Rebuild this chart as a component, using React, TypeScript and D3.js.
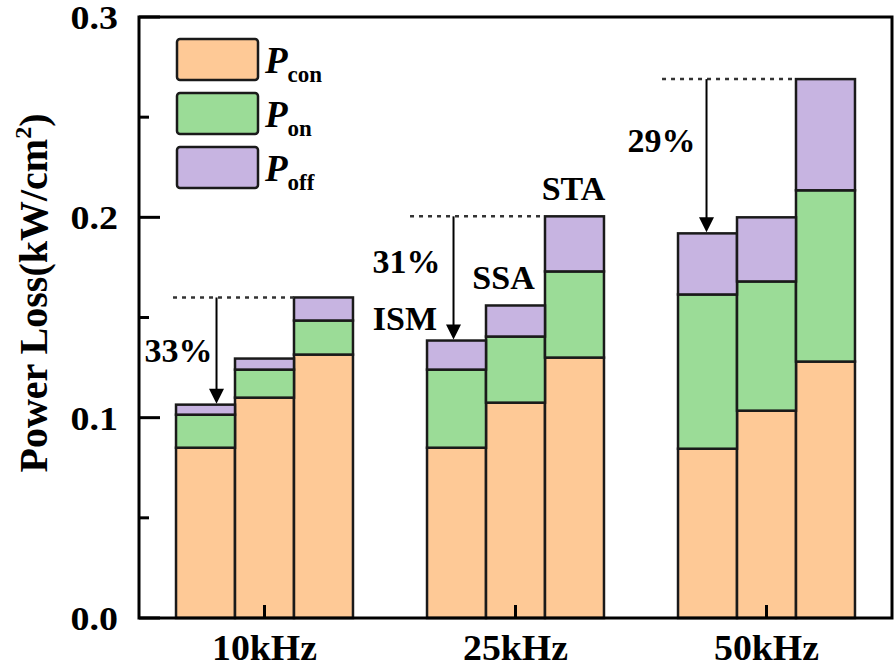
import React from "react";
import * as d3 from "d3";

const categories = ["10kHz", "25kHz", "50kHz"];
const methods = ["ISM", "SSA", "STA"];
// per category: [ISM, SSA, STA]
const pCon = [
  [0.085, 0.11, 0.1315],
  [0.085, 0.1075, 0.13],
  [0.0845, 0.1035, 0.128],
];
const pOn = [
  [0.0165, 0.014, 0.017],
  [0.039, 0.033, 0.043],
  [0.077, 0.0645, 0.0855],
];
const pOff = [
  [0.005, 0.0055, 0.0115],
  [0.0145, 0.0155, 0.0275],
  [0.0305, 0.032, 0.0555],
];
const reductions = ["33%", "31%", "29%"];
const reductionLabelY = [0.1278, 0.1722, 0.2327];
const yTicks = [0, 0.1, 0.2, 0.3];
const yMinorTicks = [0.05, 0.15, 0.25];
const seriesKeys = ["con", "on", "off"];
const seriesSubs = ["con", "on", "off"];
const colors = ["#FEC996", "#9BDC97", "#C7B4E1"];

const W = 896;
const H = 668;
const M = { left: 139, right: 892, top: 17, bottom: 618 };
const FONT = "'Liberation Serif', 'Times New Roman', serif";
const STROKE = "#1a1a1a";

export default function App() {
  const x0 = d3
    .scaleBand<string>()
    .domain(categories)
    .range([M.left, M.right])
    .paddingInner(0.295)
    .paddingOuter(0.1475);
  const x1 = d3
    .scaleBand<string>()
    .domain(methods)
    .range([0, x0.bandwidth()])
    .padding(0);
  const y = d3.scaleLinear().domain([0, 0.3]).range([M.bottom, M.top]);

  const rows: any[] = [];
  categories.forEach((c, ci) =>
    methods.forEach((m, mi) =>
      rows.push({
        cat: c,
        method: m,
        ci,
        mi,
        con: pCon[ci][mi],
        on: pOn[ci][mi],
        off: pOff[ci][mi],
      })
    )
  );
  const stacked = d3.stack<any>().keys(seriesKeys)(rows);

  const bw = x1.bandwidth();
  const arrowOffsets = [11, -3, -1];
  const textGaps = [4, 13, 11];
  const dotStartOffsets = [3, 17, 16];

  return (
    <svg width={W} height={H} style={{ display: "block", position: "absolute", left: 0, top: 0, background: "#fff" }}>
      {/* bars */}
      {stacked.map((s, si) => (
        <g key={s.key}>
          {s.map((d: any, i: number) => {
            const r = rows[i];
            const x = (x0(r.cat) as number) + (x1(r.method) as number);
            return (
              <rect
                key={i}
                x={x}
                y={y(d[1])}
                width={bw}
                height={y(d[0]) - y(d[1])}
                fill={colors[si]}
                stroke={STROKE}
                strokeWidth={2.5}
              />
            );
          })}
        </g>
      ))}

      {/* frame */}
      <rect
        x={M.left}
        y={M.top}
        width={M.right - M.left}
        height={M.bottom - M.top}
        fill="none"
        stroke="#000"
        strokeWidth={3}
      />
      {/* y ticks */}
      {yTicks.map((t) => (
        <g key={"yt" + t}>
          <line x1={M.left} x2={M.left + 21} y1={y(t)} y2={y(t)} stroke="#000" strokeWidth={3} />
          <text
            transform={`translate(118, ${y(t) + 12}) scale(1.15, 1)`}
            textAnchor="end"
            fontFamily={FONT}
            fontWeight="bold"
            fontSize={33}
          >
            {d3.format(".1f")(t)}
          </text>
        </g>
      ))}
      {yMinorTicks.map((t) => (
        <line key={"ym" + t} x1={M.left} x2={M.left + 10} y1={y(t)} y2={y(t)} stroke="#000" strokeWidth={3} />
      ))}
      {/* x ticks */}
      {categories.map((c) => {
        const cx = (x0(c) as number) + x0.bandwidth() / 2;
        return (
          <g key={"xt" + c}>
            <line x1={cx} x2={cx} y1={M.bottom} y2={M.bottom - 13} stroke="#000" strokeWidth={3} />
            <text
              transform={`translate(${cx}, 660) scale(1.08, 1)`}
              textAnchor="middle"
              fontFamily={FONT}
              fontWeight="bold"
              fontSize={35}
            >
              {c}
            </text>
          </g>
        );
      })}

      {/* y label */}
      <text
        transform={`translate(47, 293) rotate(-90)`}
        textAnchor="middle"
        fontFamily={FONT}
        fontWeight="bold"
        fontSize={40}
      >
        Power Loss(kW/cm
        <tspan fontSize={24} dy={-16}>2</tspan>
        <tspan dy={16}>)</tspan>
      </text>

      {/* legend */}
      {seriesKeys.map((k, i) => {
        const by = 39 + i * 54;
        return (
          <g key={"lg" + k}>
            <rect x={177} y={by} width={81} height={41} rx={3} fill={colors[i]} stroke={STROKE} strokeWidth={2.5} />
            <text x={265} y={by + 34} fontFamily={FONT} fontWeight="bold" fontStyle="italic" fontSize={37}>
              P
              <tspan fontStyle="normal" fontSize={23} dy={9}>
                {seriesSubs[i]}
              </tspan>
            </text>
          </g>
        );
      })}

      {/* reduction annotations */}
      {categories.map((c, ci) => {
        const gx = x0(c) as number;
        const ismX = gx + (x1("ISM") as number);
        const staX = gx + (x1("STA") as number);
        const staTop = y(pCon[ci][2] + pOn[ci][2] + pOff[ci][2]);
        const ismTop = y(pCon[ci][0] + pOn[ci][0] + pOff[ci][0]);
        const ax = ismX + bw / 2 + arrowOffsets[ci];
        return (
          <g key={"an" + c}>
            <line
              x1={ismX - dotStartOffsets[ci]}
              x2={staX}
              y1={staTop}
              y2={staTop}
              stroke="#333"
              strokeWidth={2.5}
              strokeDasharray="4 5"
            />
            <line x1={ax} x2={ax} y1={staTop} y2={ismTop - 14} stroke="#000" strokeWidth={2} />
            <path
              d={`M${ax - 7.5},${ismTop - 16} L${ax + 7.5},${ismTop - 16} L${ax},${ismTop - 1} Z`}
              fill="#000"
            />
            <text
              x={ax - textGaps[ci]}
              y={y(reductionLabelY[ci])}
              textAnchor="end"
              fontFamily={FONT}
              fontWeight="bold"
              fontSize={34}
            >
              {reductions[ci]}
            </text>
          </g>
        );
      })}

      {/* method labels on 25kHz group */}
      {methods.map((m, mi) => {
        const ci = 1;
        const gx = x0(categories[ci]) as number;
        const bx = gx + (x1(m) as number);
        const top = y(pCon[ci][mi] + pOn[ci][mi] + pOff[ci][mi]);
        const isFirst = mi === 0;
        return (
          <text
            key={"ml" + m}
            x={isFirst ? bx + 10 : bx + bw / 2 - (mi === 1 ? 12 : 1)}
            y={top - (isFirst ? 11 : 16)}
            textAnchor={isFirst ? "end" : "middle"}
            fontFamily={FONT}
            fontWeight="bold"
            fontSize={34}
          >
            {m}
          </text>
        );
      })}
    </svg>
  );
}
